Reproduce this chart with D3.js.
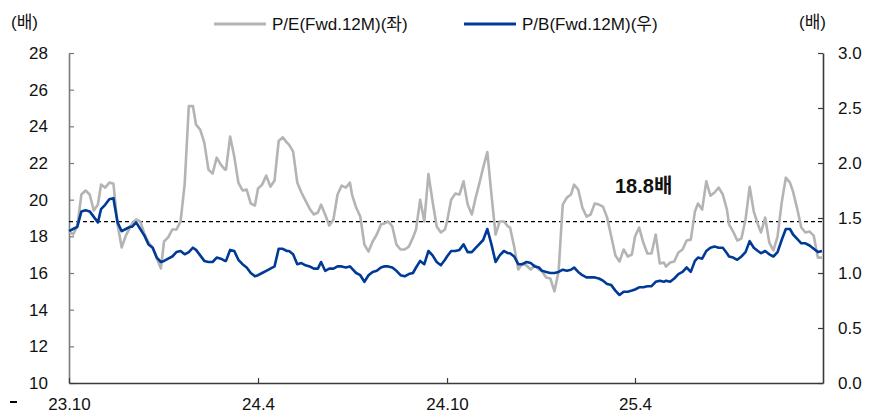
<!DOCTYPE html>
<html lang="ko">
<head>
<meta charset="utf-8">
<title>P/E, P/B</title>
<script src="https://cdn.jsdelivr.net/npm/d3@7"></script>
<style>
body{margin:0;background:#fff;}
text{font-family:"Liberation Sans",Arial,"Noto Sans CJK KR",sans-serif;fill:#111;}
</style>
</head>
<body>
<div id="chart"></div>
<script>

var dates = [
	"2023-10-01","2023-10-05","2023-10-09","2023-10-13","2023-10-17","2023-10-21","2023-10-25","2023-10-29",
	"2023-11-01","2023-11-05","2023-11-09","2023-11-13","2023-11-17","2023-11-21","2023-11-25","2023-11-29",
	"2023-12-01","2023-12-05","2023-12-09","2023-12-13","2023-12-17","2023-12-21","2023-12-25","2023-12-29",
	"2024-01-01","2024-01-05","2024-01-09","2024-01-13","2024-01-17","2024-01-21","2024-01-25","2024-01-29",
	"2024-02-01","2024-02-05","2024-02-09","2024-02-13","2024-02-17","2024-02-21","2024-02-25","2024-02-29",
	"2024-03-01","2024-03-05","2024-03-09","2024-03-13","2024-03-17","2024-03-21","2024-03-25","2024-03-29",
	"2024-04-01","2024-04-05","2024-04-09","2024-04-13","2024-04-17","2024-04-21","2024-04-25","2024-04-29",
	"2024-05-01","2024-05-05","2024-05-09","2024-05-13","2024-05-17","2024-05-21","2024-05-25","2024-05-29",
	"2024-06-01","2024-06-05","2024-06-09","2024-06-13","2024-06-17","2024-06-21","2024-06-25","2024-06-29",
	"2024-07-01","2024-07-05","2024-07-09","2024-07-13","2024-07-17","2024-07-21","2024-07-25","2024-07-29",
	"2024-08-01","2024-08-05","2024-08-09","2024-08-13","2024-08-17","2024-08-21","2024-08-25","2024-08-29",
	"2024-09-01","2024-09-05","2024-09-09","2024-09-13","2024-09-17","2024-09-21","2024-09-25","2024-09-29",
	"2024-10-01","2024-10-05","2024-10-09","2024-10-13","2024-10-17","2024-10-21","2024-10-25","2024-10-29",
	"2024-11-01","2024-11-05","2024-11-09","2024-11-13","2024-11-17","2024-11-21","2024-11-25","2024-11-29",
	"2024-12-01","2024-12-05","2024-12-09","2024-12-13","2024-12-17","2024-12-21","2024-12-25","2024-12-29",
	"2025-01-01","2025-01-05","2025-01-09","2025-01-13","2025-01-17","2025-01-21","2025-01-25","2025-01-29",
	"2025-02-01","2025-02-05","2025-02-09","2025-02-13","2025-02-17","2025-02-21","2025-02-25",
	"2025-03-01","2025-03-05","2025-03-09","2025-03-13","2025-03-17","2025-03-21","2025-03-25","2025-03-29",
	"2025-04-01","2025-04-05","2025-04-09","2025-04-13","2025-04-17","2025-04-21","2025-04-25","2025-04-29",
	"2025-05-01","2025-05-05","2025-05-09","2025-05-13","2025-05-17","2025-05-21","2025-05-25","2025-05-29",
	"2025-06-01","2025-06-05","2025-06-09","2025-06-13","2025-06-17","2025-06-21","2025-06-25","2025-06-29",
	"2025-07-01","2025-07-05","2025-07-09","2025-07-13","2025-07-17","2025-07-21","2025-07-25","2025-07-29",
	"2025-08-01","2025-08-05","2025-08-09","2025-08-13","2025-08-17","2025-08-21","2025-08-25","2025-08-29",
	"2025-09-01","2025-09-05","2025-09-09","2025-09-13","2025-09-17","2025-09-21","2025-09-25","2025-09-29"
];

// P/E (left axis)
var peValues = [
	18.27,18.10,18.54,20.28,20.50,20.28,19.41,19.74,
	20.82,20.66,20.93,20.88,18.65,17.39,18.04,18.48,
	18.70,18.92,18.81,18.15,17.66,17.39,16.79,16.25,
	17.72,17.94,18.37,18.37,18.81,20.85,25.10,25.10,
	24.09,23.82,23.11,21.64,21.42,22.29,21.91,21.64,
	21.64,23.44,22.35,20.93,20.50,20.55,19.79,19.68,
	20.61,20.82,21.31,20.71,21.04,23.20,23.40,23.11,
	23.00,22.62,20.93,20.39,19.95,19.51,19.19,19.30,
	19.73,19.19,18.59,18.92,20.28,20.77,20.66,20.93,
	20.28,19.57,19.08,17.55,17.17,17.72,18.10,18.65,
	18.70,18.81,18.54,17.55,17.28,17.28,17.44,17.93,
	18.37,20.00,18.81,21.40,19.90,18.54,18.21,18.37,
	18.81,20.00,20.33,20.28,21.00,19.73,19.19,20.17,
	20.82,21.75,22.60,20.28,18.10,18.81,18.81,18.54,
	18.48,17.44,16.19,16.52,16.41,16.19,16.41,16.19,
	16.08,15.75,15.70,15.00,16.08,19.73,20.11,20.28,
	20.82,20.55,19.57,19.08,19.19,19.79,19.73,
	19.62,19.02,17.99,16.95,16.63,17.28,16.90,17.01,
	17.99,18.48,17.66,17.06,17.06,18.10,16.52,16.57,
	16.35,16.57,16.63,17.12,17.28,17.77,17.82,19.35,
	19.79,19.46,21.00,20.22,20.39,20.66,20.28,19.46,
	18.65,18.26,17.77,17.88,18.92,20.70,19.35,18.65,
	18.21,19.02,17.66,17.23,17.99,19.84,21.20,20.93,
	20.44,19.51,18.48,18.21,18.26,18.04,16.84,16.84
];

// P/B (right axis)
var pbValues = [
	1.38,1.40,1.42,1.56,1.57,1.56,1.51,1.46,
	1.58,1.62,1.67,1.68,1.46,1.38,1.40,1.42,
	1.42,1.46,1.40,1.34,1.26,1.23,1.14,1.10,
	1.11,1.13,1.15,1.19,1.20,1.17,1.19,1.23,
	1.21,1.16,1.11,1.10,1.10,1.14,1.13,1.11,
	1.11,1.21,1.20,1.12,1.08,1.05,1.00,0.97,
	0.98,1.00,1.02,1.04,1.06,1.22,1.22,1.20,
	1.20,1.17,1.08,1.09,1.07,1.06,1.04,1.04,
	1.10,1.02,1.04,1.04,1.06,1.06,1.05,1.06,
	1.04,1.00,0.98,0.92,0.98,1.01,1.02,1.05,
	1.06,1.06,1.05,1.02,0.98,0.97,0.99,1.00,
	1.05,1.11,1.08,1.20,1.16,1.10,1.07,1.12,
	1.15,1.20,1.20,1.21,1.26,1.19,1.19,1.23,
	1.26,1.30,1.40,1.26,1.10,1.16,1.20,1.18,
	1.18,1.15,1.08,1.08,1.10,1.09,1.06,1.05,
	1.02,1.01,1.00,1.00,1.01,1.03,1.02,1.03,
	1.05,1.01,0.98,0.96,0.96,0.96,0.95,
	0.93,0.90,0.89,0.84,0.80,0.83,0.83,0.84,
	0.85,0.87,0.87,0.88,0.88,0.92,0.93,0.92,
	0.93,0.92,0.95,0.99,1.01,1.05,1.01,1.11,
	1.14,1.13,1.20,1.23,1.24,1.23,1.23,1.18,
	1.15,1.14,1.12,1.15,1.19,1.29,1.23,1.20,
	1.18,1.20,1.17,1.15,1.19,1.30,1.40,1.40,
	1.35,1.31,1.27,1.27,1.25,1.22,1.19,1.20
];

var peTicks = [10,12,14,16,18,20,22,24,26,28];
var pbTicks = [0,0.5,1,1.5,2,2.5,3];
var xTickDates = ["2023-10-01","2024-04-01","2024-10-01","2025-04-01"];
var xTickLabels = ["23.10","24.4","24.10","25.4"];
var seriesNames = ["P/E(Fwd.12M)(좌)","P/B(Fwd.12M)(우)"];
var avgPE = 18.8;
var avgLabel = "18.8배";
var unitLabel = "(배)";

var w = 877, h = 420;
var plotL = 69, plotR = 823, plotT = 53, plotB = 383;
var grayColor = "#b4b4b4", blueColor = "#003a96";

var parseTime = d3.timeParse("%Y-%m-%d");

var svg = d3.select("#chart").append("svg")
	.attr("width", w)
	.attr("height", h);

var xScale = d3.scaleTime()
	.domain([parseTime("2023-10-01"), parseTime("2025-09-30")])
	.range([plotL, plotR]);

var yLeft = d3.scaleLinear().domain([10, 28]).range([plotB, plotT]);
var yRight = d3.scaleLinear().domain([0, 3]).range([plotB, plotT]);

// axes
var leftAxis = d3.axisLeft(yLeft)
	.tickValues(peTicks)
	.tickSizeInner(-5)
	.tickSizeOuter(0)
	.tickPadding(21);

var rightAxis = d3.axisRight(yRight)
	.tickValues(pbTicks)
	.tickFormat(d3.format(".1f"))
	.tickSizeInner(-5)
	.tickSizeOuter(0)
	.tickPadding(15);

var bottomAxis = d3.axisBottom(xScale)
	.tickValues(xTickDates.map(parseTime))
	.tickFormat(function(d, i){ return xTickLabels[i]; })
	.tickSizeInner(-5)
	.tickSizeOuter(0)
	.tickPadding(15);

function styleAxis(g, col){
	g.select(".domain").attr("stroke", col).attr("stroke-width", 1.6);
	g.selectAll(".tick line").attr("stroke", col).attr("stroke-width", 1.2);
	g.selectAll(".tick text")
		.attr("fill", "#111")
		.style("font-size", "17px");
}

svg.append("g")
	.attr("transform", "translate(" + plotL + ",0)")
	.call(leftAxis)
	.call(styleAxis, "#7a7a7a");

svg.append("g")
	.attr("transform", "translate(" + plotR + ",0)")
	.call(rightAxis)
	.call(styleAxis, "#3a3a3a");

svg.append("g")
	.attr("transform", "translate(0," + plotB + ")")
	.call(bottomAxis)
	.call(styleAxis, "#3a3a3a");

// average line
svg.append("line")
	.attr("x1", plotL)
	.attr("x2", plotR)
	.attr("y1", yLeft(avgPE))
	.attr("y2", yLeft(avgPE))
	.attr("stroke", "#000")
	.attr("stroke-width", 1.2)
	.attr("stroke-dasharray", "4,3");

var data = dates.map(function(d, i){
	return {date: parseTime(d), pe: peValues[i], pb: pbValues[i]};
});

var peLine = d3.line()
	.x(function(d){ return xScale(d.date); })
	.y(function(d){ return yLeft(d.pe); });

var pbLine = d3.line()
	.x(function(d){ return xScale(d.date); })
	.y(function(d){ return yRight(d.pb); });

svg.append("path")
	.datum(data)
	.attr("d", peLine)
	.attr("fill", "none")
	.attr("stroke", grayColor)
	.attr("stroke-width", 2.6)
	.attr("stroke-linejoin", "round");

svg.append("path")
	.datum(data)
	.attr("d", pbLine)
	.attr("fill", "none")
	.attr("stroke", blueColor)
	.attr("stroke-width", 2.6)
	.attr("stroke-linejoin", "round");

// average label
svg.append("text")
	.attr("x", 615)
	.attr("y", 193)
	.style("font-size", "20px")
	.style("font-weight", "bold")
	.text(avgLabel);

// unit labels
svg.append("text")
	.attr("x", 11)
	.attr("y", 28)
	.style("font-size", "17px")
	.text(unitLabel);

svg.append("text")
	.attr("x", 799)
	.attr("y", 28)
	.style("font-size", "17px")
	.text(unitLabel);

// legend
var legend = svg.append("g");
var legendItems = [
	{name: seriesNames[0], color: grayColor, x: 214},
	{name: seriesNames[1], color: blueColor, x: 464}
];
legendItems.forEach(function(it){
	legend.append("line")
		.attr("x1", it.x)
		.attr("x2", it.x + 52)
		.attr("y1", 24)
		.attr("y2", 24)
		.attr("stroke", it.color)
		.attr("stroke-width", 3);
	legend.append("text")
		.attr("x", it.x + 58)
		.attr("y", 30)
		.style("font-size", "17px")
		.attr("fill", "#222")
		.text(it.name);
});

// stray mark at bottom left
svg.append("line")
	.attr("x1", 10)
	.attr("x2", 17)
	.attr("y1", 402)
	.attr("y2", 402)
	.attr("stroke", "#000")
	.attr("stroke-width", 2);

</script>
</body>
</html>
